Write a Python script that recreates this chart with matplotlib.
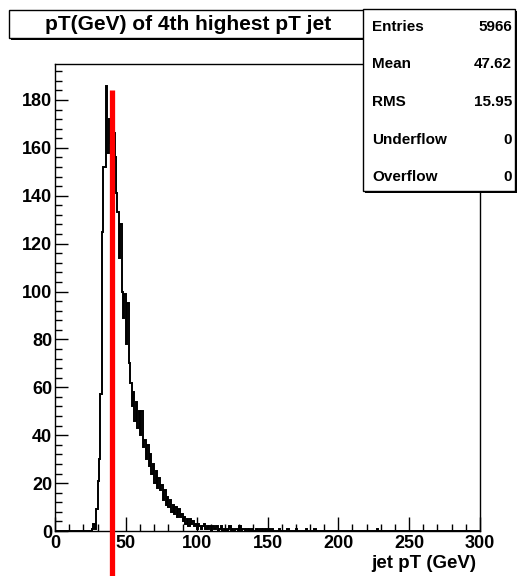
import numpy as np
import matplotlib
matplotlib.use('Agg')
import matplotlib.pyplot as plt
from matplotlib.patches import Rectangle
from matplotlib.ticker import MultipleLocator

plt.rcParams['font.family'] = ['Liberation Sans', 'DejaVu Sans']
plt.rcParams['font.weight'] = 'bold'

# 1 GeV bins, 0-300 GeV; dense part starts at 25 GeV
first_bin = 25
counts = [0, 1, 3, 1, 9, 21, 30, 57, 125, 152,
          152, 186, 158, 172, 162, 150, 166, 156, 141, 133,
          114, 128, 100, 89, 99, 78, 95, 70, 62, 52,
          58, 46, 54, 43, 50, 40, 50, 35, 38, 30,
          36, 27, 32, 24, 28, 20, 25, 18, 22, 17,
          19, 13, 17, 11, 14, 10, 13, 8, 11, 7,
          10, 6, 9, 6, 7, 4, 6, 3, 5, 2,
          5, 3, 4, 2, 3, 1, 3, 2, 1, 2,
          3, 1, 2, 1, 2, 0, 2, 1, 1, 2,
          0, 1, 2, 0, 1, 1, 0, 1, 2, 0,
          1, 0, 1, 1, 0, 2, 0, 1, 1, 0,
          1, 0, 1, 0, 1, 0, 0, 1, 0, 0,
          1, 0, 1, 0, 1, 0, 1, 0, 1]
tail_bins = [158, 164, 170, 177, 183, 227]
tail_counts = [1, 1, 1, 1, 1, 1]

cut_value = 40.5
stats_names = ['Entries', 'Mean', 'RMS', 'Underflow', 'Overflow']
stats_values = ['5966', '47.62', '15.95', '0', '0']
title = 'pT(GeV) of 4th highest pT jet'
xlabel = 'jet pT (GeV)'

edges = np.arange(0, 301, 1)
h = np.zeros(300)
h[first_bin:first_bin + len(counts)] = counts
h[tail_bins] = tail_counts

W, H = 520, 576
fig = plt.figure(figsize=(W / 100, H / 100), dpi=100)
ax = fig.add_axes([55 / W, 45 / H, 425 / W, 467 / H])

ax.stairs(h, edges, color='black', lw=1.4)
ax.plot([cut_value, cut_value], [-25, 184.2], color='red', lw=3.8,
        solid_capstyle='butt', clip_on=False, zorder=5)

ax.set_xlim(0, 300)
ax.set_ylim(0, 195)
ax.xaxis.set_major_locator(MultipleLocator(50))
ax.xaxis.set_minor_locator(MultipleLocator(10))
ax.yaxis.set_major_locator(MultipleLocator(20))
ax.yaxis.set_minor_locator(MultipleLocator(4))
ax.tick_params(which='both', direction='in', top=False, right=False,
               width=1, labelsize=13)
ax.tick_params(axis='x', which='major', length=10, pad=3)
ax.tick_params(axis='x', which='minor', length=5)
ax.tick_params(axis='y', which='major', length=9.5, pad=2)
ax.tick_params(axis='y', which='minor', length=4.7)
for s in ax.spines.values():
    s.set_linewidth(1)


def fx(x):
    return x / W


def fy(y):
    return 1 - y / H


def pave(x0, y0, x1, y1):
    sh = 2
    fig.add_artist(Rectangle((fx(x0 + sh), fy(y1 + sh)), fx(x1 - x0), (y1 - y0) / H,
                             transform=fig.transFigure, facecolor='black',
                             edgecolor='black', lw=0, zorder=2))
    fig.add_artist(Rectangle((fx(x0), fy(y1)), fx(x1 - x0), (y1 - y0) / H,
                             transform=fig.transFigure, facecolor='white',
                             edgecolor='black', lw=1, zorder=3))


pave(9, 10, 365, 38)
fig.text(fx(188), fy(25), title, ha='center', va='center', fontsize=15, zorder=4)

pave(363, 9, 515, 191)
for i, (n, v) in enumerate(zip(stats_names, stats_values)):
    yy = 27 + i * 37.5
    fig.text(fx(372), fy(yy), n, ha='left', va='center', fontsize=11, zorder=4)
    fig.text(fx(512), fy(yy), v, ha='right', va='center', fontsize=11, zorder=4)

fig.text(fx(476), fy(563), xlabel, ha='right', va='center', fontsize=13.5)

fig.savefig('out.png', dpi=100)
